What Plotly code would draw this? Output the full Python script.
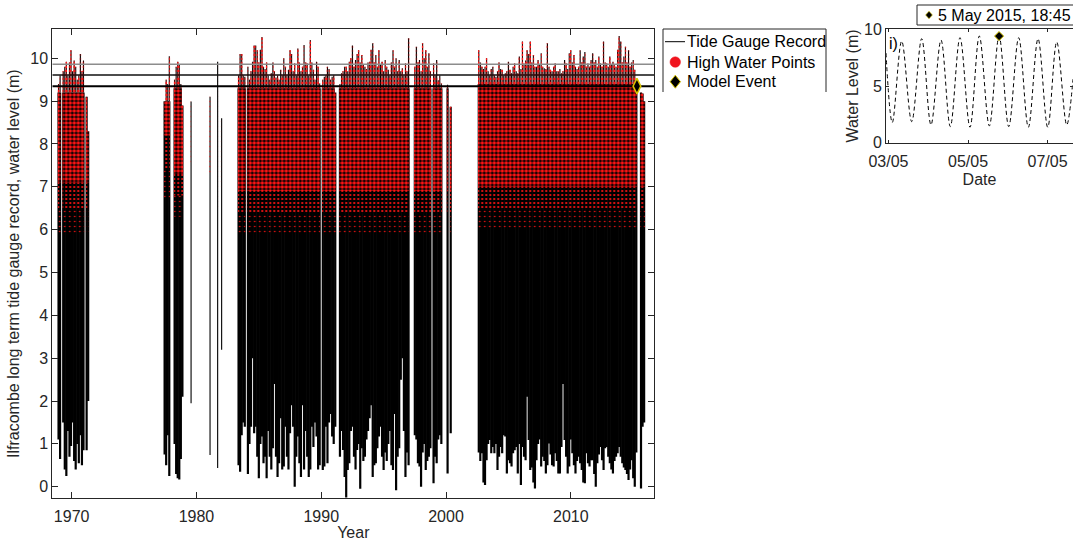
import plotly.graph_objects as go

W, H = 1073, 541


def px(x):
    return x / W


def py(y):
    return 1 - y / H


# ---------------- data ----------------
STEP = 0.125  # sampling step of the record envelopes (years)

# Segment A 1969-1971
max_a = [9.4, 9.6, None, 9.7, 9.8, 9.92, 9.6, 9.9, 10.19, 9.7, 9.95, 9.8, 9.5, 9.6, 10.1, 9.7, 9.95, None, 9.1, 8.3]
min_a = [1.1, 0.65, None, 1.5, 0.4, 0.25, 1.3, 0.7, 0.95, 1.5, 0.6, 0.4, 1.0, 0.55, 1.2, 0.5, 0.85, None, 0.85, 2.0]
# Segment B1 1977.5
max_b1 = [9.0, 9.5, 9.4, 10.05]
min_b1 = [0.75, 0.5, 1.2, 0.25]
# Segment B2 1978
max_b2 = [9.5, 9.8, 9.92, 9.85, 9.4, 8.9]
min_b2 = [1.0, 0.3, 0.2, 0.17, 0.65, 2.1]
# single short records
max_s1, min_s1 = [8.99], [1.95]
max_s2, min_s2 = [9.1], [0.74]
max_s3, min_s3 = [9.92], [0.44]
max_s4, min_s4 = [8.6], [3.2]
# Segment C 1983.4-2000.3
max_c = [9.6, 10.1, 10.1, 9.6, 9.57, None, 9.8, 9.5,
         9.7, 9.92, 10.3, 10.3, 10.19, 9.9, 10.2, 10.5,
         9.8, 9.75, 9.9, 9.6, 9.5, 9.65, 9.9, 9.7,
         9.55, 9.6, 9.5, 9.73, 9.6, 10.0, 9.8, 9.6,
         9.73, 10.19, 10.1, 9.7, 9.88, 9.6, 10.23, 9.9,
         9.7, 9.8, 10.31, 9.9, 9.88, 9.6, 10.43, 9.9,
         9.73, 9.5, 9.92, 9.8, 9.41, None, 9.5, 9.57,
         9.6, 9.8, 9.75, 9.5, 9.57, 9.6, 9.2, None,
         None, 9.4, 9.65, 9.7, 9.8, 9.8, 9.7, 9.92,
         10.0, 10.3, 9.8, 9.96, 10.1, 10.19, 9.9, 10.08,
         9.85, 9.8, 9.75, 9.9, 9.92, 10.2, 10.35, 9.9,
         10.08, 9.8, 10.19, 9.85, 9.92, 9.7, 9.96, 9.8,
         9.73, 9.6, 9.9, 10.19, 9.8, 10.0, 9.7, 9.96,
         9.7, 9.77, 9.6, 9.88, 9.7, 10.47, None, None,
         None, 9.8, 10.27, 9.9, 9.96, 9.7, 10.35, 10.0,
         10.19, 9.8, 10.12, 9.7, None, 9.88, 9.6, 9.96,
         9.49, 9.6, 9.41, None, None, None, 9.38, None,
         8.87]
min_c = [0.5, 0.35, 1.2, 1.5, 1.4, None, 0.3, 1.0,
         1.4, 3.0, 1.25, 1.4, 0.7, 0.2, 1.0, 1.17,
         0.55, 0.7, 0.2, 1.3, 0.7, 0.4, 0.9, 2.4,
         0.7, 0.23, 0.55, 1.6, 0.4, 0.47, 1.4, 0.7,
         0.4, 1.25, 1.9, 1.4, 0.0, 0.7, 1.17, 0.55,
         0.23, 1.9, 0.4, 1.3, 0.7, 0.23, 0.4, 1.4,
         0.93, 1.5, 1.17, 0.4, 0.5, None, 0.39, 0.47,
         1.4, 0.55, 1.5, 1.7, 1.17, 1.0, 1.4, None,
         None, 0.7, 1.3, 0.86, 0.23, -0.25, 0.39, 0.55,
         1.3, 1.4, 0.7, 0.4, 0.86, 1.0, -0.05, 0.9,
         0.6, 0.7, 1.1, 1.3, 1.6, 1.9, 0.23, 0.5,
         0.55, 0.9, 1.17, 1.4, 0.7, 0.39, 0.8, 0.6,
         1.0, 1.3, 0.5, 0.39, 1.7, -0.08, 0.7, 0.9,
         2.5, 3.0, 1.3, 0.23, 0.8, 0.5, None, None,
         None, 1.2, 1.1, 0.55, 0.47, 0.0, 0.8, 1.0,
         0.39, 0.6, 0.7, 0.9, None, 0.08, 0.7, 0.55,
         1.1, 1.2, 1.0, None, None, None, 0.31, None,
         1.25]
# Segment D 2002.6-2016
max_d = [10.19, 9.9, 9.8, 9.75, 9.8, 10.0, 9.7, 9.6,
         9.75, 9.8, 9.6, 9.57, 9.7, 9.9, 9.75, 9.73,
         9.6, 9.65, 9.7, 9.92, 9.73, 9.65, 9.8, 9.88,
         9.7, 9.65, 10.04, 9.75, 10.39, 9.88, 9.95, 10.19,
         10.1, 10.39, 9.9, 10.08, 9.8, 9.8, 9.96, 9.85,
         10.12, 9.8, 9.77, 9.75, 10.35, 9.8, 9.73, 9.7,
         9.8, 9.88, 9.7, 9.69, 9.75, 9.65, 9.7, 9.96,
         9.88, 9.75, 10.12, 10.19, 9.9, 10.08, 9.8, 9.75,
         9.8, 10.19, 9.9, 10.04, 10.15, 9.8, 9.88, 9.8,
         9.96, 10.12, 9.9, 9.96, 9.8, 10.04, 9.88, 9.8,
         10.39, 9.9, 9.88, 9.8, 10.04, 9.85, 9.92, 9.84,
         9.8, 10.2, 10.52, 10.39, 9.9, 10.04, 10.27, 9.9,
         10.19, 9.8, 9.9, 9.96, 9.73, 9.4, None, None,
         9.2, 9.18, 9.0]
min_d = [0.8, 0.6, 0.78, 0.1, 0.04, 0.62, 1.0, 1.09,
         0.78, 0.93, 0.78, 1.0, 0.39, 0.7, 0.93, 0.78,
         1.2, 1.17, 0.31, 0.62, 0.55, 0.47, 0.78, 0.85,
         0.93, 0.31, 1.0, 0.04, 0.93, 0.7, 0.62, 2.1,
         1.09, 0.39, 0.45, 0.1, -0.04, 0.62, 1.0, 1.1,
         0.47, 0.7, 0.6, 0.31, 0.5, 1.01, 0.75, 0.5,
         0.47, 0.78, 0.6, 0.31, 0.31, 0.93, 2.4, 1.09,
         0.7, 0.31, 0.47, 1.1, 0.78, 0.5, 0.31, 0.6,
         0.7, 0.55, 0.39, 0.1, 0.08, 0.78, 0.55, 0.47,
         0.62, 0.62, 0.3, 0.0, 0.55, 0.75, 0.93, 0.62,
         0.39, 0.9, 0.93, 0.7, 0.55, 0.4, 0.31, 0.6,
         0.7, 0.78, 0.93, 0.7, 0.55, 0.45, 0.39, 0.3,
         0.16, 0.4, 0.62, 0.2, 0.0, 0.8, None, None,
         -0.04, 1.4, 1.5]

seg_start = [1968.95, 1977.45, 1978.25, 1979.57, 1981.09, 1981.70, 1982.02, 1983.375, 2002.625]
seg_max = [max_a, max_b1, max_b2, max_s1, max_s2, max_s3, max_s4, max_c, max_d]
seg_min = [min_a, min_b1, min_b2, min_s1, min_s2, min_s3, min_s4, min_c, min_d]
# top of the solid mass (above it only single spikes) per segment
core_top = [9.2, 9.0, 9.3, None, None, None, None, 9.3, 9.4]
# lower limits of the high-water point cloud per segment: sparse / medium / dense
hw_low_sparse = [5.9, 6.7, 6.3, 7.5, 7.3, 6.5, 7.0, 5.9, 6.0]
hw_low_medium = [6.5, 7.4, 6.8, None, None, None, None, 6.4, 6.5]
hw_low_dense = [7.1, 8.2, 7.3, None, None, None, None, 6.9, 7.0]

thresholds = [9.86, 9.61, 9.35]
threshold_colors = ["#8c8c8c", "#111111", "#000000"]
threshold_widths = [1.6, 1.3, 2.0]

event_year, event_level = 2015.3, 9.35

# inset: turning points of the tide around the model event
inset_time = ["2015-05-02 22:30", "2015-05-03 02:18", "2015-05-03 07:58", "2015-05-03 14:01",
              "2015-05-03 20:02", "2015-05-04 01:39", "2015-05-04 07:42", "2015-05-04 13:19",
              "2015-05-04 19:10", "2015-05-05 01:12", "2015-05-05 06:49", "2015-05-05 12:52",
              "2015-05-05 18:45", "2015-05-06 00:35", "2015-05-06 06:36", "2015-05-06 12:25",
              "2015-05-06 18:16", "2015-05-07 00:07", "2015-05-07 05:33", "2015-05-07 11:35",
              "2015-05-07 15:22"]
inset_level = [7.9, 1.78, 8.96, 1.86, 9.17, 1.57, 9.05, 1.42, 9.26, 1.36, 9.41, 1.48,
               9.4, 1.42, 9.26, 1.36, 9.17, 1.36, 8.88, 1.57, 5.6]
inset_event_time, inset_event_level = "2015-05-05 18:45", 9.4

x_range = [1968.45, 2016.69]
y_range = [-0.27, 10.684]
x_ticks = [1970, 1980, 1990, 2000, 2010]
y_ticks = list(range(0, 11))

# ---------------- build traces ----------------
HALF = STEP / 2
thin_x, thin_y, thick_x, thick_y = [], [], [], []
BANDS = ["sparse", "medium", "dense", "spike"]
poly = {k: ([], []) for k in BANDS}


def add_run(key, run):
    """run: list of (t, base, top); draws a stepped polygon."""
    if not run:
        return
    xs, ys = poly[key]
    base = run[0][1]
    xs.append(run[0][0] - HALF); ys.append(base)
    for t, _, top in run:
        xs.extend([t - HALF, t + HALF]); ys.extend([top, top])
    xs.extend([run[-1][0] + HALF, None]); ys.extend([base, None])


for k, start in enumerate(seg_start):
    mx, mn = seg_max[k], seg_min[k]
    ctop = core_top[k]
    levels = [hw_low_sparse[k], hw_low_medium[k], hw_low_dense[k], ctop]
    runs = {key: [] for key in BANDS}

    def flush():
        for key in BANDS:
            add_run(key, runs[key])
            runs[key] = []

    for i, (hi, lo) in enumerate(zip(mx, mn)):
        if hi is None or lo is None:
            flush()
            continue
        t = start + i * STEP
        if ctop is None:
            thin_x.extend([t, t, None]); thin_y.extend([lo, hi, None])
        else:
            b = min(hi, ctop)
            thick_x.extend([t, t, None]); thick_y.extend([lo, b, None])
            if hi > ctop:
                thin_x.extend([t, t, None]); thin_y.extend([ctop, hi, None])
                runs["spike"].append((t, ctop, hi))
        for j, key in enumerate(BANDS[:3]):
            base = levels[j]
            if base is None:
                continue
            nxt = next((v for v in levels[j + 1:] if v is not None), None)
            top = hi if nxt is None else min(hi, nxt)
            if top > base:
                runs[key].append((t, base, top))
    flush()

fig = go.Figure()
fig.add_trace(go.Scatter(x=thick_x, y=thick_y, mode="lines", line=dict(color="black", width=2.2),
                         hoverinfo="skip", showlegend=False, name="Tide Gauge Record"))
fig.add_trace(go.Scatter(x=thin_x, y=thin_y, mode="lines", line=dict(color="black", width=1.1),
                         hoverinfo="skip", showlegend=False))
pattern_style = {"sparse": (5, 0.08), "medium": (4, 0.24), "dense": (4, 0.6), "spike": (4, 0.38)}
for key in BANDS:
    xs, ys = poly[key]
    size, sol = pattern_style[key]
    fig.add_trace(go.Scatter(x=xs, y=ys, mode="lines", fill="toself",
                             fillcolor="rgba(0,0,0,0)", line=dict(width=0, color="rgba(0,0,0,0)"),
                             fillpattern=dict(shape=".", fgcolor="#ff1414", bgcolor="rgba(0,0,0,0)",
                                              size=size, solidity=sol, fillmode="replace"),
                             hoverinfo="skip", showlegend=False, name="High Water Points"))
for lvl, c, w in zip(thresholds, threshold_colors, threshold_widths):
    fig.add_trace(go.Scatter(x=x_range, y=[lvl, lvl], mode="lines",
                             line=dict(color=c, width=w), hoverinfo="skip", showlegend=False))
fig.add_trace(go.Scatter(x=[event_year], y=[event_level], mode="markers",
                         marker=dict(symbol="diamond-tall", size=11, color="black",
                                     line=dict(color="#d8c400", width=1.5)),
                         showlegend=False, name="Model Event"))

# inset
fig.add_trace(go.Scatter(x=inset_time, y=inset_level, mode="lines", xaxis="x2", yaxis="y2",
                         line=dict(color="black", width=1, dash="4px,3px", shape="spline", smoothing=1.0),
                         showlegend=False))
fig.add_trace(go.Scatter(x=[inset_event_time], y=[inset_event_level], mode="markers",
                         xaxis="x2", yaxis="y2",
                         marker=dict(symbol="diamond", size=7, color="black",
                                     line=dict(color="#d8c400", width=1)),
                         showlegend=False))

FONT = "Liberation Sans, Arial, Helvetica, sans-serif"
AX = "#262626"
common = dict(showgrid=False, zeroline=False, showline=True, linecolor=AX, linewidth=1,
              mirror="ticks", ticks="inside", tickcolor=AX, tickwidth=1, automargin=False,
              tickfont=dict(family=FONT, size=16, color=AX))

fig.update_layout(
    width=W, height=H, margin=dict(l=0, r=0, t=0, b=0, autoexpand=False),
    paper_bgcolor="white", plot_bgcolor="rgba(0,0,0,0)",
    showlegend=False,
    font=dict(family=FONT, size=16, color=AX),
    xaxis=dict(domain=[px(52.3), px(654.3)], range=x_range, tickvals=x_ticks, ticklen=6,
               ticklabelstandoff=3,
               title=dict(text="Year", font=dict(size=16, color=AX), standoff=9),
               anchor="y", **common),
    yaxis=dict(domain=[py(498.3), py(29)], range=y_range, tickvals=y_ticks, ticklen=6,
               title=dict(text="Ilfracombe long term tide gauge record, water level (m)",
                          font=dict(size=16, color=AX), standoff=6),
               anchor="x", **common),
    xaxis2=dict(domain=[px(886), 1.0], type="date",
                range=["2015-05-02 22:30", "2015-05-07 15:22"],
                tickvals=["2015-05-03", "2015-05-05", "2015-05-07"],
                ticktext=["03/05", "05/05", "07/05"], ticklen=3, ticklabelstandoff=4,
                title=dict(text="Date", font=dict(size=16, color=AX), standoff=4),
                anchor="y2", **common),
    yaxis2=dict(domain=[py(142.7), py(29.3)], range=[0, 10], tickvals=[0, 5, 10], ticklen=3,
                title=dict(text="Water Level (m)", font=dict(size=16, color=AX), standoff=1),
                anchor="x2", **common),
)

shapes = []
# main legend box (left, top, right edges)
lb = dict(color=AX, width=1)
shapes.append(dict(type="line", xref="paper", yref="paper", x0=px(663), x1=px(663), y0=py(29), y1=py(92), line=lb))
shapes.append(dict(type="line", xref="paper", yref="paper", x0=px(663), x1=px(826), y0=py(29), y1=py(29), line=lb))
shapes.append(dict(type="line", xref="paper", yref="paper", x0=px(826), x1=px(826), y0=py(29), y1=py(92), line=lb))
# legend samples
shapes.append(dict(type="line", xref="paper", yref="paper", x0=px(665), x1=px(685), y0=py(41.7), y1=py(41.7),
                   line=dict(color="black", width=1)))
shapes.append(dict(type="circle", xref="paper", yref="paper", x0=px(670), x1=px(680.5), y0=py(67.3), y1=py(56.8),
                   fillcolor="#f0141e", line=dict(color="#f0141e", width=0.5)))


def diamond(cx, cy, hw, hh):
    return "M {:.5f},{:.5f} L {:.5f},{:.5f} L {:.5f},{:.5f} L {:.5f},{:.5f} Z".format(
        px(cx), py(cy - hh), px(cx + hw), py(cy), px(cx), py(cy + hh), px(cx - hw), py(cy))


shapes.append(dict(type="path", xref="paper", yref="paper", path=diamond(675.3, 81.7, 5.2, 6.5),
                   fillcolor="black", line=dict(color="#d8c400", width=1)))
# inset legend box
shapes.append(dict(type="rect", xref="paper", yref="paper", x0=px(917), x1=1.02, y0=py(25), y1=py(5),
                   line=dict(color=AX, width=1), fillcolor="white"))
shapes.append(dict(type="path", xref="paper", yref="paper", path=diamond(929, 15, 3.4, 3.8),
                   fillcolor="black", line=dict(color="#d8c400", width=0.6)))
fig.update_layout(shapes=shapes)

ann = []
for txt, yy in [("Tide Gauge Record", 41.7), ("High Water Points", 62.3), ("Model Event", 81.7)]:
    ann.append(dict(text=txt, xref="paper", yref="paper", x=px(685), y=py(yy), xanchor="left",
                    yanchor="middle", showarrow=False, font=dict(family=FONT, size=16, color="black")))
ann.append(dict(text="5 May 2015, 18:45", xref="paper", yref="paper", x=px(936), y=py(15), xanchor="left",
                yanchor="middle", showarrow=False, font=dict(family=FONT, size=16, color="black")))
ann.append(dict(text="i)", xref="paper", yref="paper", x=px(887), y=py(43), xanchor="left",
                yanchor="middle", showarrow=False, font=dict(family=FONT, size=16, color="black")))
fig.update_layout(annotations=ann)

fig.write_html("out.html")
